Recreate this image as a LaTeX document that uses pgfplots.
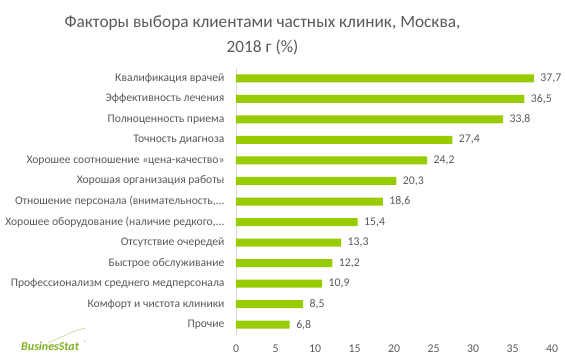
\documentclass[border=0pt]{standalone}
\usepackage{pgfplots}
\pgfplotsset{compat=1.18}
\usepackage{fontspec}
\setmainfont{Carlito}
\definecolor{bargreen}{HTML}{99CC00}
\definecolor{txt}{HTML}{595959}
\definecolor{axgrey}{HTML}{D9D9D9}
\definecolor{logogreen}{HTML}{7DB21F}
\newcommand{\dd}{.\kern0pt.\kern0pt.}
\pgfplotstableread{
y v
12 37.7
11 36.5
10 33.8
9 27.4
8 24.2
7 20.3
6 18.6
5 15.4
4 13.3
3 12.2
2 10.9
1 8.5
0 6.8
}\datatab
\begin{document}
\begin{tikzpicture}
\path[use as bounding box] (0,0) rectangle (565pt,360pt);
\node[txt, font=\fontsize{17.3}{20}\selectfont] at (262.5pt,337pt) {Факторы выбора клиентами частных клиник, Москва,};
\node[txt, font=\fontsize{17.3}{20}\selectfont] at (262.5pt,313pt) {2018 г (\%)};
\begin{axis}[
  at={(236pt,25pt)}, anchor=south west, scale only axis,
  width=316pt, height=267pt,
  xbar, bar width=8pt,
  xmin=0, xmax=40, ymin=-0.5, ymax=12.5,
  xtick={0,5,...,40}, ytick={0,...,12},
  yticklabels={Прочие,Комфорт и чистота клиники,Профессионализм среднего медперсонала,Быстрое обслуживание,Отсутствие очередей,{Хорошее оборудование (наличие редкого,\dd}, {Отношение персонала (внимательность,\dd},Хорошая организация работы,Хорошее соотношение «цена-качество»,Точность диагноза,Полноценность приема,Эффективность лечения,Квалификация врачей},
  axis x line*=bottom, axis y line*=left,
  x axis line style={draw=none},
  y axis line style={draw=axgrey, line width=0.8pt, -},
  major tick length=0pt,
  tick style={draw=none},
  /pgf/number format/assume math mode=true,
  xticklabel style={txt, font=\fontsize{11.8}{13}\selectfont, yshift=-6pt},
  yticklabel style={txt, font=\fontsize{11.6}{13}\selectfont, xshift=-8pt},
  nodes near coords,
  nodes near coords style={txt, font=\fontsize{11.8}{13}\selectfont, anchor=west, xshift=3pt,
    /pgf/number format/.cd, fixed, fixed zerofill, precision=1, use comma, assume math mode=true},
]
\addplot[fill=bargreen, draw=none] table[x=v, y=y] {\datatab};
\end{axis}
\draw[logogreen!50, line width=0.6pt] (48pt,17pt) .. controls (60pt,22pt) and (70pt,28pt) .. (85pt,32pt);
\node[anchor=base west, inner sep=0pt, font=\bfseries\itshape\fontsize{12}{14}\selectfont, logogreen] at (21pt,10pt) {BusinesStat};
\node[anchor=base west, inner sep=0pt, font=\fontsize{5}{6}\selectfont, logogreen] at (84pt,16pt) {®};
\end{tikzpicture}
\end{document}
